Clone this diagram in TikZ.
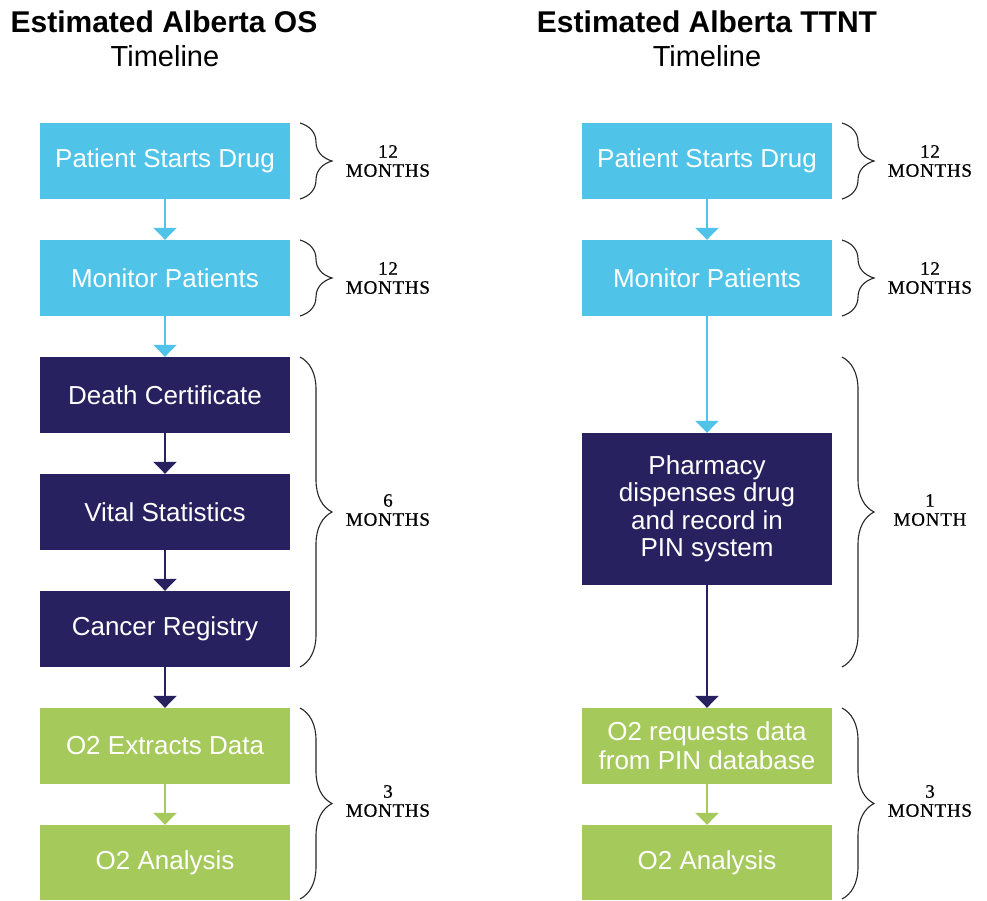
\documentclass[tikz,border=0pt]{standalone}
\usepackage{fontspec}
\setmainfont{Liberation Sans}
\newfontfamily\serifm[LetterSpace=4,FakeBold=0.6]{Liberation Serif}
\usetikzlibrary{arrows.meta,decorations.pathreplacing}
\definecolor{lblue}{HTML}{4FC3E8}
\definecolor{navy}{HTML}{27215F}
\definecolor{lgreen}{HTML}{A5C95A}
\tikzset{
  box/.style={rectangle, minimum width=250pt, minimum height=76pt, inner sep=0pt,
    text=white, align=center, font=\fontsize{26}{29}\selectfont},
  bluebox/.style={box, fill=lblue},
  navybox/.style={box, fill=navy},
  greenbox/.style={box, fill=lgreen},
  flow/.style={line width=2.5pt, -{Triangle[width=23pt,length=12pt]}},
  cbrace/.style={decorate, decoration={brace, amplitude=32pt, aspect=0.5}, line width=1.1pt, black!85},
  months/.style={align=center, font=\serifm\fontsize{19}{19}\selectfont, inner sep=0pt},
  ttl/.style={font=\bfseries\fontsize{30}{33}\selectfont, inner sep=0pt},
  ttl2/.style={font=\fontsize{29}{32}\selectfont, inner sep=0pt}
}
\begin{document}
\begin{tikzpicture}[x=1pt,y=-1pt]
\useasboundingbox (0,0) rectangle (987,900);
% titles
\node[ttl] (t1) at (164,22) {Estimated Alberta OS};
\node[ttl2] (t1b) at (165,56) {Timeline};
\node[ttl] (t2) at (707,22) {Estimated Alberta TTNT};
\node[ttl2] (t2b) at (707,56) {Timeline};
% left column
\node[bluebox] (a1) at (165,161) {Patient Starts Drug};
\node[bluebox] (a2) at (165,278) {Monitor Patients};
\node[navybox] (a3) at (165,395) {Death Certificate};
\node[navybox] (a4) at (165,512) {Vital Statistics};
\node[navybox] (a5) at (165,629) {Cancer Registry};
\node[greenbox] (a6) at (165,746) {O2 Extracts Data};
\node[greenbox, minimum height=75pt] (a7) at (165,862.5) {O2 Analysis};
\draw[flow, lblue] (a1) -- (a2);
\draw[flow, lblue] (a2) -- (a3);
\draw[flow, navy] (a3) -- (a4);
\draw[flow, navy] (a4) -- (a5);
\draw[flow, navy] (a5) -- (a6);
\draw[flow, lgreen] (a6) -- (a7);
% right column
\node[bluebox] (b1) at (707,161) {Patient Starts Drug};
\node[bluebox] (b2) at (707,278) {Monitor Patients};
\node[navybox, minimum height=152pt, font=\fontsize{26}{27.5}\selectfont] (b3) at (707,509) {Pharmacy\\dispenses drug\\and record in\\PIN system};
\node[greenbox, font=\fontsize{26}{29}\selectfont] (b4) at (707,746) {O2 requests data\\from PIN database};
\node[greenbox, minimum height=75pt] (b5) at (707,862.5) {O2 Analysis};
\draw[flow, lblue] (b1) -- (b2);
\draw[flow, lblue] (b2) -- (b3);
\draw[flow, navy] (b3) -- (b4);
\draw[flow, lgreen] (b4) -- (b5);
% braces left
\coordinate (la1) at (300,123); \coordinate (la2) at (300,199);
\coordinate (lb1) at (300,240); \coordinate (lb2) at (300,316);
\coordinate (lc1) at (300,357); \coordinate (lc2) at (300,667);
\coordinate (ld1) at (300,708); \coordinate (ld2) at (300,899);
\draw[cbrace] (la1) -- (la2);
\draw[cbrace] (lb1) -- (lb2);
\draw[cbrace] (lc1) -- (lc2);
\draw[cbrace] (ld1) -- (ld2);
\node[months] (m1) at (388,161) {12\\MONTHS};
\node[months] (m2) at (388,278) {12\\MONTHS};
\node[months] (m3) at (388,510) {6\\MONTHS};
\node[months] (m4) at (388,801) {3\\MONTHS};
% braces right
\coordinate (ra1) at (842,123); \coordinate (ra2) at (842,199);
\coordinate (rb1) at (842,240); \coordinate (rb2) at (842,316);
\coordinate (rc1) at (842,357); \coordinate (rc2) at (842,667);
\coordinate (rd1) at (842,708); \coordinate (rd2) at (842,899);
\draw[cbrace] (ra1) -- (ra2);
\draw[cbrace] (rb1) -- (rb2);
\draw[cbrace] (rc1) -- (rc2);
\draw[cbrace] (rd1) -- (rd2);
\node[months] (n1) at (930,161) {12\\MONTHS};
\node[months] (n2) at (930,278) {12\\MONTHS};
\node[months] (n3) at (930,510) {1\\MONTH};
\node[months] (n4) at (930,801) {3\\MONTHS};
\end{tikzpicture}
\end{document}
